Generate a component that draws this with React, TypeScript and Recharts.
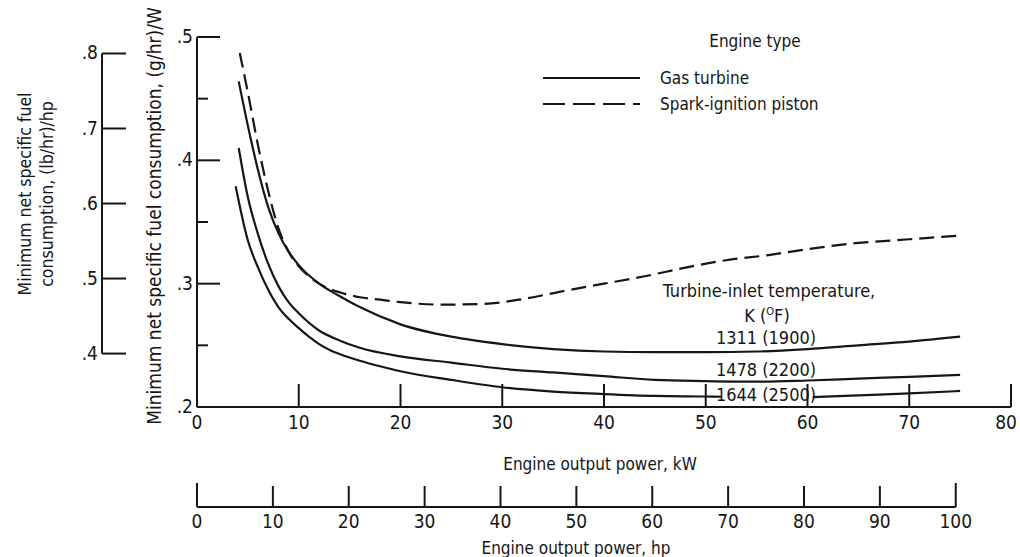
import { Line, LineChart, XAxis, YAxis } from "recharts";

// axis ticks
const kwTicks = [0, 10, 20, 30, 40, 50, 60, 70, 80];
const hpTicks = [0, 10, 20, 30, 40, 50, 60, 70, 80, 90, 100];
const sfcTicks = [0.2, 0.25, 0.3, 0.35, 0.4, 0.45, 0.5];
const lbTicks = [0.4, 0.5, 0.6, 0.7, 0.8];

// spark-ignition piston (dashed)
const pistonKw = [4.2, 5, 6, 7, 8, 9, 10, 11, 12, 14, 16, 18, 20, 24, 28, 32, 36, 40, 44, 48, 52, 56, 60, 65, 70, 75];
const pistonSfc = [0.487, 0.455, 0.412, 0.375, 0.345, 0.326, 0.314, 0.306, 0.3, 0.293, 0.289, 0.287, 0.285, 0.283, 0.2835, 0.2875, 0.294, 0.3, 0.306, 0.313, 0.319, 0.323, 0.328, 0.333, 0.336, 0.339];

// gas turbine, turbine-inlet temperature 1311 K (1900 F)
const kw1311 = [4.1, 5, 6, 7, 8, 9, 10, 12, 14, 16, 20, 25, 30, 35, 40, 45, 50, 55, 60, 65, 70, 75];
const sfc1311 = [0.464, 0.428, 0.392, 0.362, 0.341, 0.326, 0.315, 0.3, 0.29, 0.281, 0.267, 0.257, 0.251, 0.247, 0.245, 0.2445, 0.2445, 0.245, 0.247, 0.25, 0.253, 0.257];

// 1478 K (2200 F)
const kw1478 = [4.1, 5, 6, 7, 8, 9, 10, 12, 14, 16, 20, 25, 30, 35, 40, 45, 50, 55, 60, 65, 70, 75];
const sfc1478 = [0.41, 0.37, 0.34, 0.316, 0.298, 0.285, 0.276, 0.262, 0.254, 0.248, 0.241, 0.236, 0.231, 0.228, 0.225, 0.222, 0.221, 0.2205, 0.2215, 0.223, 0.2245, 0.226];

// 1644 K (2500 F) - broken where the label sits on the curve
const kw1644 = [3.8, 5, 6, 7, 8, 9, 10, 11, 12, 13, 14, 16, 18, 20, 25, 30, 35, 40, 45, 50, 51.5, 56, 60.5, 65, 70, 75];
const sfc1644 = [0.379, 0.335, 0.313, 0.295, 0.281, 0.2715, 0.264, 0.257, 0.251, 0.2465, 0.243, 0.2375, 0.233, 0.229, 0.222, 0.216, 0.2125, 0.2105, 0.209, 0.2085, 0.2083, null, 0.208, 0.2095, 0.211, 0.213];

const KW_PER_HP = 0.7457;
const GHRW_PER_LBHRHP = 0.6083;

const toRows = (xs: number[], ys: (number | null)[]) => xs.map((x, i) => ({ x, y: ys[i] }));

const ink = "#161616";
const font = '"Liberation Sans Narrow", "DejaVu Sans Condensed", "Roboto Condensed", "DejaVu Sans", sans-serif';
const fmtDec = (v: number) => String(v).replace(/^0/, "");

function SfcTick({ x, y, payload }: any) {
  const v = payload.value;
  const major = Math.round(v * 100) % 10 === 0;
  const len = v === 0.2 ? 0 : major ? 23 : 11;
  return (
    <g>
      {len > 0 && <line x1={x} x2={x + len} y1={y} y2={y} stroke={ink} strokeWidth={2} />}
      {major && (
        <text x={x - 4} y={y + 6} textAnchor="end" fontSize={19} fontFamily={font} fill={ink}>
          {fmtDec(v)}
        </text>
      )}
    </g>
  );
}

function KwTick({ x, y, payload }: any) {
  const v = payload.value;
  const last = v === kwTicks[kwTicks.length - 1];
  return (
    <g>
      {v > 0 && <line x1={x} x2={x} y1={y} y2={y - 23} stroke={ink} strokeWidth={2} />}
      <text x={last ? x - 5 : x} y={y + 22} textAnchor="middle" fontSize={19} fontFamily={font} fill={ink}>
        {v}
      </text>
    </g>
  );
}

function HpTick({ x, y, payload }: any) {
  const v = payload.value;
  const len = v === 0 || v === 100 ? 24 : 21;
  return (
    <g>
      <line x1={x} x2={x} y1={y} y2={y - len} stroke={ink} strokeWidth={2} />
      <text x={x} y={y + 21} textAnchor="middle" fontSize={19} fontFamily={font} fill={ink}>
        {v}
      </text>
    </g>
  );
}

function LbTick({ x, y, payload }: any) {
  const v = payload.value;
  return (
    <g>
      <line x1={x} x2={x + 24} y1={y} y2={y} stroke={ink} strokeWidth={2} />
      <text x={x - 4} y={y + 6} textAnchor="end" fontSize={19} fontFamily={font} fill={ink}>
        {fmtDec(v)}
      </text>
    </g>
  );
}

const txt = { fontFamily: font, fontSize: 17, fill: ink } as const;

export default function App() {
  return (
    <div style={{ position: "relative", width: 1020, height: 557, background: "#fff" }}>
      <style>{`body{margin:0}`}</style>

      {/* main chart: kW vs (g/hr)/W */}
      <div style={{ position: "absolute", left: 0, top: 0 }}>
        <LineChart width={1020} height={557} margin={{ top: 37, right: 9, left: 0, bottom: 0 }}>
          <XAxis
            type="number"
            dataKey="x"
            domain={[0, 80]}
            ticks={kwTicks}
            height={150}
            axisLine={{ stroke: ink, strokeWidth: 2 }}
            tickLine={false}
            tickSize={0}
            tickMargin={0}
            tick={<KwTick />}
            interval={0}
          />
          <YAxis
            type="number"
            domain={[0.2, 0.5]}
            ticks={sfcTicks}
            width={197}
            axisLine={{ stroke: ink, strokeWidth: 2 }}
            tickLine={false}
            tickSize={0}
            tickMargin={0}
            tick={<SfcTick />}
            interval={0}
          />
          <Line data={toRows(pistonKw, pistonSfc)} dataKey="y" type="monotone" stroke={ink} strokeWidth={2.2} strokeDasharray="15 7" dot={false} isAnimationActive={false} />
          <Line data={toRows(kw1311, sfc1311)} dataKey="y" type="monotone" stroke={ink} strokeWidth={2.2} dot={false} isAnimationActive={false} />
          <Line data={toRows(kw1478, sfc1478)} dataKey="y" type="monotone" stroke={ink} strokeWidth={2.2} dot={false} isAnimationActive={false} />
          <Line data={toRows(kw1644, sfc1644)} dataKey="y" type="monotone" stroke={ink} strokeWidth={2.2} dot={false} connectNulls={false} isAnimationActive={false} />
        </LineChart>
      </div>

      {/* secondary scale: (lb/hr)/hp */}
      <div style={{ position: "absolute", left: 0, top: 0 }}>
        <LineChart width={160} height={557} margin={{ top: 37, right: 0, left: 0, bottom: 150 }}>
          <XAxis type="number" dataKey="x" domain={[0, 1]} hide />
          <YAxis
            type="number"
            domain={[0.2 / GHRW_PER_LBHRHP, 0.5 / GHRW_PER_LBHRHP]}
            ticks={lbTicks}
            width={102}
            axisLine={false}
            tickLine={false}
            tickSize={0}
            tickMargin={0}
            tick={<LbTick />}
            interval={0}
          />
          <Line data={[{ x: 0, y: lbTicks[0] }, { x: 0, y: lbTicks[lbTicks.length - 1] }]} dataKey="y" stroke={ink} strokeWidth={2} dot={false} isAnimationActive={false} />
        </LineChart>
      </div>

      {/* secondary scale: hp */}
      <div style={{ position: "absolute", left: 0, top: 0 }}>
        <LineChart width={1020} height={557} margin={{ top: 460, right: 9, left: 197, bottom: 0 }}>
          <XAxis
            type="number"
            dataKey="x"
            domain={[0, 80 / KW_PER_HP]}
            ticks={hpTicks}
            height={50}
            axisLine={false}
            tickLine={false}
            tickSize={0}
            tickMargin={0}
            tick={<HpTick />}
            interval={0}
          />
          <YAxis type="number" domain={[0, 1]} hide />
          <Line data={[{ x: hpTicks[0], y: 0 }, { x: hpTicks[hpTicks.length - 1], y: 0 }]} dataKey="y" stroke={ink} strokeWidth={2} dot={false} isAnimationActive={false} />
        </LineChart>
      </div>

      {/* titles, legend and curve labels */}
      <svg width={1020} height={557} style={{ position: "absolute", left: 0, top: 0, pointerEvents: "none" }}>
        <text transform="translate(161,216) rotate(-90)" textAnchor="middle" {...txt} fontSize={19}>
          Minimum net specific fuel consumption,  (g/hr)/W
        </text>
        <text transform="translate(31,194) rotate(-90)" textAnchor="middle" {...txt} fontSize={17.5}>
          Minimum net specific fuel
        </text>
        <text transform="translate(53,194) rotate(-90)" textAnchor="middle" {...txt} fontSize={17.5}>
          consumption,  (lb/hr)/hp
        </text>

        <text x={600} y={470} textAnchor="middle" {...txt}>Engine output power, kW</text>
        <text x={576} y={554} textAnchor="middle" {...txt}>Engine output power, hp</text>

        <text x={755} y={47} textAnchor="middle" {...txt}>Engine type</text>
        <line x1={543} x2={640} y1={78} y2={78} stroke={ink} strokeWidth={2} />
        <text x={660} y={84} {...txt}>Gas turbine</text>
        <line x1={543} x2={640} y1={104} y2={104} stroke={ink} strokeWidth={2} strokeDasharray="22 8" />
        <text x={660} y={110} {...txt}>Spark-ignition piston</text>

        <text x={769} y={297} textAnchor="middle" {...txt} fontSize={18}>Turbine-inlet temperature,</text>
        <text x={767} y={322} textAnchor="middle" {...txt} fontSize={18}>
          K (<tspan fontSize={11} dy={-7}>O</tspan>
          <tspan dy={7}>F)</tspan>
        </text>
        <text x={766} y={344} textAnchor="middle" {...txt} fontSize={18}>1311 (1900)</text>
        <text x={766} y={376} textAnchor="middle" {...txt} fontSize={18}>1478 (2200)</text>
        <text x={766} y={401} textAnchor="middle" {...txt} fontSize={18}>1644 (2500)</text>
      </svg>
    </div>
  );
}
